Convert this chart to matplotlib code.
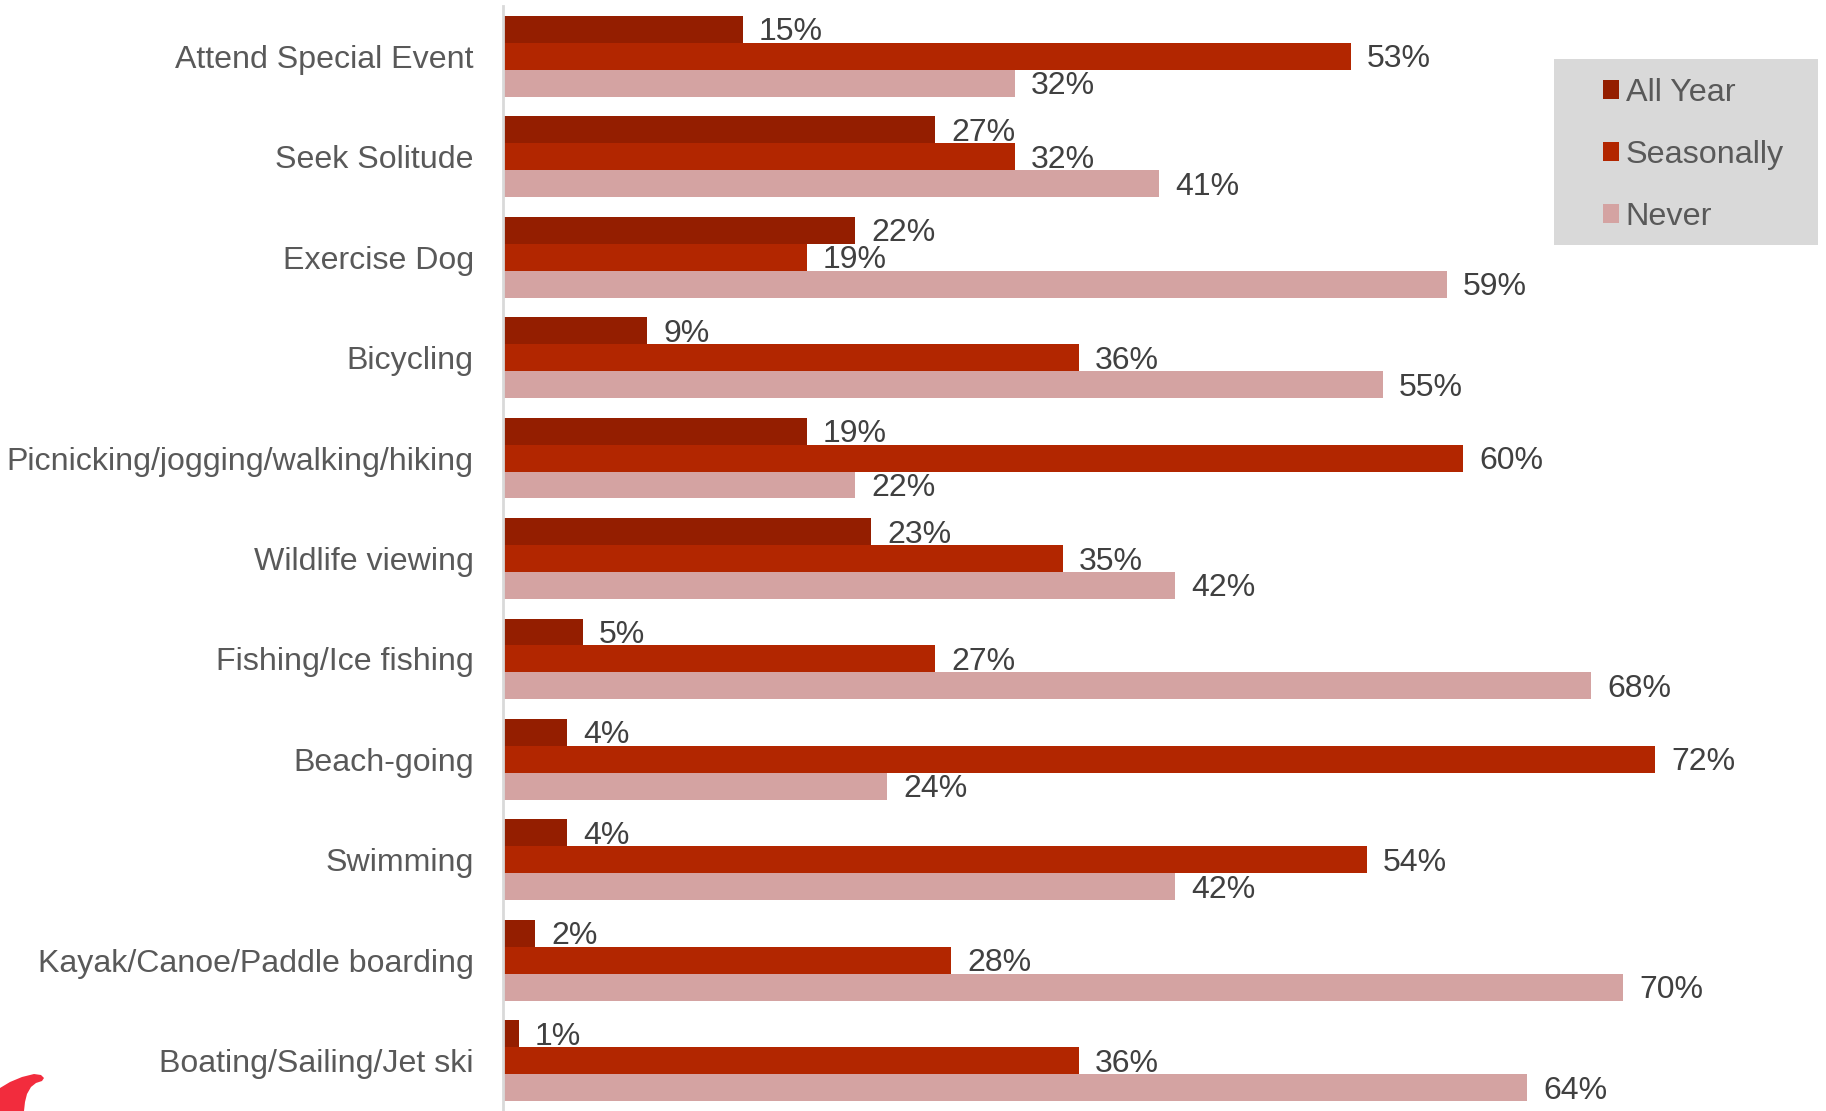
import matplotlib
matplotlib.use("Agg")
from matplotlib import pyplot as plt
from matplotlib.patches import Rectangle, Polygon
import numpy as np

plt.rcParams['font.family'] = ['Liberation Sans', 'DejaVu Sans']

categories = [
    "Attend Special Event",
    "Seek Solitude",
    "Exercise Dog",
    "Bicycling",
    "Picnicking/jogging/walking/hiking",
    "Wildlife viewing",
    "Fishing/Ice fishing",
    "Beach-going",
    "Swimming",
    "Kayak/Canoe/Paddle boarding",
    "Boating/Sailing/Jet ski",
]
all_year = [15, 27, 22, 9, 19, 23, 5, 4, 4, 2, 1]
seasonally = [53, 32, 19, 36, 60, 35, 27, 72, 54, 28, 36]
never = [32, 41, 59, 55, 22, 42, 68, 24, 42, 70, 64]

series_names = ["All Year", "Seasonally", "Never"]
colors = ["#941e00", "#b22600", "#d4a3a2"]

W, H = 1826, 1111
fig = plt.figure(figsize=(W / 100, H / 100), dpi=100)

# plot area in pixels: axis line at x=503, ~16 px per percent
left_px = 503
px_per_pct = 16.0
xmax = 80
ax = fig.add_axes([left_px / W, 0, xmax * px_per_pct / W, (H - 6) / H])

y = np.arange(len(categories))
h = 0.268
text_col = "#595959"
val_col = "#404040"
# value labels sit ~3px below bar centre
dy = 3 / 100.4

for k, (vals, name, col) in enumerate(zip([all_year, seasonally, never], series_names, colors)):
    pos = y + (k - 1) * h
    ax.barh(pos, vals, height=h, color=col, label=name, edgecolor="none")
    for p, v in zip(pos, vals):
        ax.text(v + 16 / px_per_pct, p + dy, f"{v}%", va="center", ha="left",
                fontsize=23, color=val_col)

ax.set_xlim(0, xmax)
ax.set_ylim(len(categories) - 0.5, -0.5)
ax.set_yticks(y)
ax.set_yticklabels(categories, fontsize=23.1, color=text_col)
ax.tick_params(axis="y", length=0, pad=21)
ax.set_xticks([])
for s in ["top", "right", "bottom"]:
    ax.spines[s].set_visible(False)
ax.spines["left"].set_color("#d9d9d9")
ax.spines["left"].set_linewidth(2)
ax.patch.set_visible(False)

# legend background box
fig.patches.append(Rectangle((1554 / W, 1 - 245 / H), 264 / W, 186 / H,
                             transform=fig.transFigure, facecolor="#d9d9d9",
                             edgecolor="none", zorder=0))
leg = fig.legend(loc="upper left", bbox_to_anchor=(1603 / W, 1 - 78 / H),
                 frameon=False, fontsize=23.3, handlelength=0.5, handleheight=0.5,
                 handletextpad=0.2, labelspacing=0.99, borderpad=0, borderaxespad=0)
for t in leg.get_texts():
    t.set_color(text_col)

# partial red logo in the bottom-left corner
logo = [(0, 1088), (10, 1082), (22, 1077), (34, 1074), (41, 1075), (44, 1078),
        (42, 1081), (36, 1083), (31, 1087), (27, 1094), (25, 1102), (24, 1111), (0, 1111)]
fig.patches.append(Polygon([(px / W, 1 - py / H) for px, py in logo], closed=True,
                           transform=fig.transFigure, facecolor="#f22c3d",
                           edgecolor="none"))

fig.savefig("out.png", dpi=100)
